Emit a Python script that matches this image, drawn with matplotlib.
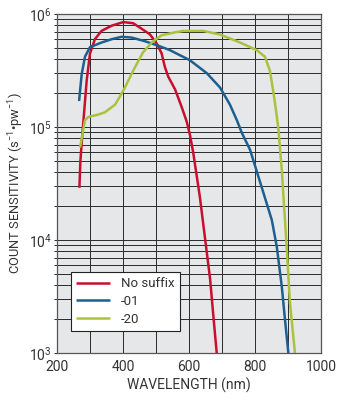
import numpy as np
import matplotlib.pyplot as plt
from matplotlib.ticker import LogLocator, FixedLocator, NullFormatter

plt.rcParams['font.family'] = ['Roboto', 'DejaVu Sans']
plt.rcParams['mathtext.fontset'] = 'custom'
plt.rcParams['mathtext.rm'] = 'Roboto'
plt.rcParams['mathtext.it'] = 'Roboto'

# Data (wavelength nm, counts s^-1 pw^-1)
wl_nosuffix = [268, 271, 277, 290, 300, 315, 335, 366, 401, 431, 457, 482, 502, 517,
               527, 537, 558, 578, 593, 603, 613, 633, 648, 664, 674, 684]
cs_nosuffix = [2.9e4, 5.0e4, 8.7e4, 2.57e5, 4.47e5, 6.0e5, 7.1e5, 7.9e5, 8.5e5, 8.3e5,
               7.4e5, 6.6e5, 5.5e5, 4.5e5, 3.4e5, 2.8e5, 2.15e5, 1.5e5, 1.12e5, 8.5e4,
               5.9e4, 2.4e4, 1.07e4, 4.5e3, 2.1e3, 1.0e3]

wl_01 = [267, 275, 285, 300, 335, 366, 396, 426, 467, 507, 542, 603, 654, 694, 724,
         745, 760, 785, 820, 851, 866, 881, 891, 901]
cs_01 = [1.7e5, 2.95e5, 4.2e5, 5.1e5, 5.6e5, 6.0e5, 6.3e5, 6.2e5, 5.75e5, 5.25e5,
         4.8e5, 3.9e5, 3.0e5, 2.24e5, 1.58e5, 1.15e5, 8.9e4, 6.3e4, 2.95e4, 1.5e4,
         8.7e3, 3.9e3, 1.95e3, 1.0e3]

wl_20 = [270, 285, 295, 325, 345, 376, 401, 431, 461, 487, 517, 558, 583, 643, 694,
         755, 805, 830, 845, 855, 864, 871, 881, 894, 906, 921]
cs_20 = [6.6e4, 1.15e5, 1.23e5, 1.29e5, 1.35e5, 1.58e5, 2.1e5, 3.16e5, 4.6e5, 5.6e5,
         6.5e5, 6.9e5, 7.1e5, 7.1e5, 6.6e5, 5.6e5, 4.8e5, 4.2e5, 3.16e5, 2.1e5,
         1.38e5, 9.5e4, 4.2e4, 1.07e4, 2.75e3, 1.0e3]

labels = ['No suffix', '-01', '-20']
colors = ['#c8102e', '#1d5f8f', '#a9c23f']

fig = plt.figure(figsize=(3.39, 4.03), dpi=100)
ax = fig.add_axes([0.168, 0.124, 0.779, 0.841])
ax.set_facecolor('#e6e7e8')

for x, y, lab, c in zip([wl_nosuffix, wl_01, wl_20], [cs_nosuffix, cs_01, cs_20], labels, colors):
    ax.plot(x, y, color=c, lw=1.8, label=lab, solid_capstyle='butt', solid_joinstyle='round')

ax.set_yscale('log')
ax.set_xlim(200, 1000)
ax.set_ylim(1e3, 1e6)
ax.set_xticks([200, 400, 600, 800, 1000])
ax.xaxis.set_minor_locator(FixedLocator(np.arange(300, 1000, 200)))
ax.yaxis.set_major_locator(LogLocator(base=10, numticks=10))
ax.yaxis.set_minor_locator(LogLocator(base=10, subs=np.arange(2, 10), numticks=20))
ax.yaxis.set_minor_formatter(NullFormatter())

ax.grid(True, which='both', color='#2a2a2a', lw=0.7)
ax.set_axisbelow(True)
ax.tick_params(axis='x', which='both', length=0, labelsize=10, colors='#333333', pad=5)
ax.tick_params(axis='y', which='both', length=2.5, width=0.7, color='#2a2a2a',
               labelsize=10, labelcolor='#333333', pad=1)
for s in ax.spines.values():
    s.set_color('#555555')
    s.set_linewidth(0.9)

ax.set_xlabel('WAVELENGTH (nm)', fontsize=10, color='#333333', labelpad=3)
ax.set_ylabel('COUNT SENSITIVITY (s$^{-1}$•pw$^{-1}$)', fontsize=9.3, color='#333333', labelpad=2)

leg = ax.legend(loc='lower left', bbox_to_anchor=(0.052, 0.065), fontsize=9.5,
                frameon=True, fancybox=False, handlelength=2.6, borderpad=0.4,
                labelspacing=0.35, handletextpad=0.8, borderaxespad=0)
leg.get_frame().set_edgecolor('#222222')
leg.get_frame().set_facecolor('white')
leg.get_frame().set_alpha(1)
leg.get_frame().set_linewidth(0.8)
for t in leg.get_texts():
    t.set_color('#333333')

plt.savefig('out.png', dpi=100)
